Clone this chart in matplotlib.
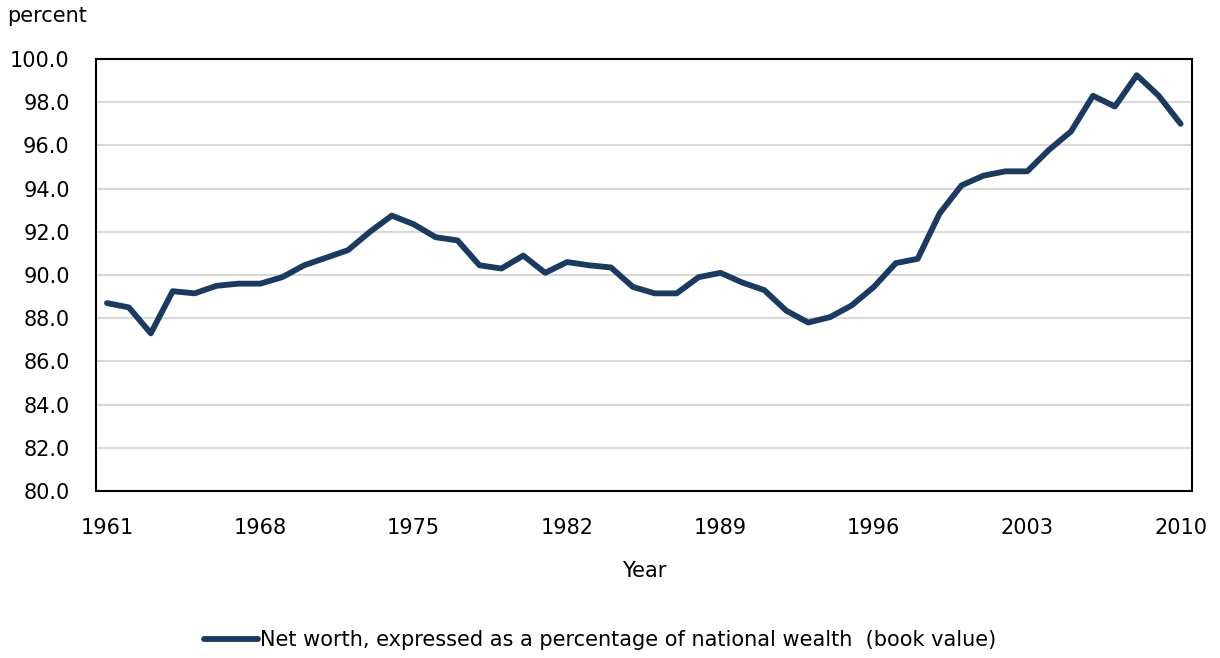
import matplotlib.pyplot as plt
import numpy as np

years = np.arange(1961, 2011)
net_worth = [88.7, 88.5, 87.3, 89.25, 89.15, 89.5, 89.6, 89.6, 89.9, 90.45,
             90.8, 91.15, 92.0, 92.75, 92.35, 91.75, 91.6, 90.45, 90.3, 90.9,
             90.1, 90.6, 90.45, 90.35, 89.45, 89.15, 89.15, 89.9, 90.1, 89.65,
             89.3, 88.35, 87.8, 88.05, 88.6, 89.45, 90.55, 90.75, 92.85, 94.15,
             94.6, 94.8, 94.8, 95.8, 96.65, 98.3, 97.8, 99.25, 98.3, 97.0]
year_ticks = [1961, 1968, 1975, 1982, 1989, 1996, 2003, 2010]
y_ticks = np.arange(80, 101, 2)

fig = plt.figure(figsize=(12.2, 6.58), dpi=100)
ax = fig.add_axes([0.0787, 0.2538, 0.898, 0.6565])

ax.plot(years, net_worth, color='#1b3a60', linewidth=4.2, solid_capstyle='round',
        label='Net worth, expressed as a percentage of national wealth  (book value)')

ax.set_xlim(1960.5, 2010.5)
ax.set_ylim(80, 100)
ax.set_xticks(year_ticks)
ax.set_yticks(y_ticks)
ax.set_yticklabels([f'{v:.1f}' for v in y_ticks])
ax.tick_params(length=0, labelsize=15)
ax.tick_params(axis='x', pad=27)
ax.tick_params(axis='y', pad=19)
for lab in ax.get_xticklabels():
    lab.set_verticalalignment('center')
ax.yaxis.grid(True, color='#d9d9d9', linewidth=1.5)
ax.set_axisbelow(True)
for s in ax.spines.values():
    s.set_linewidth(1.5)
ax.set_xlabel('Year', fontsize=15, labelpad=16)
fig.text(0.006, 0.975, 'percent', fontsize=15, va='center', ha='left')

ax.legend(loc='center', bbox_to_anchor=(0.46, -0.345), frameon=False, fontsize=15,
          handlelength=2.6, handletextpad=0.1)

fig.savefig('out.png', dpi=100)
